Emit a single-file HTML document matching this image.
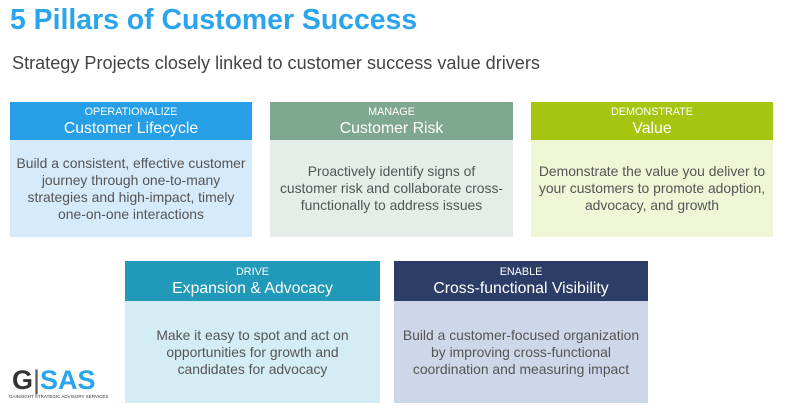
<!DOCTYPE html>
<html><head><meta charset="utf-8"><style>
body{margin:0;width:786px;height:412px;background:#fff;position:relative;overflow:hidden;font-family:"Liberation Sans",Arial,sans-serif}
.t{position:absolute;left:10px;top:4px;font-size:28.4px;font-weight:bold;color:#2aa4ec;white-space:nowrap}
.s{position:absolute;left:12px;top:53px;font-size:18.1px;color:#444;white-space:nowrap}
.b{position:absolute}
.h{height:38px;color:#fff;text-align:center;display:flex;flex-direction:column;justify-content:center;padding-top:3px;box-sizing:border-box}
.h .a{font-size:10.8px;line-height:13px}
.h .c{font-size:15.8px;line-height:20px}
.d{display:flex;align-items:center;justify-content:center;text-align:center;font-size:13.9px;line-height:17px;color:#555;white-space:nowrap}
</style></head><body>
<div class="t">5 Pillars of Customer Success</div>
<div class="s">Strategy Projects closely linked to customer success value drivers</div>

<div class="b" style="left:10px;top:102px;width:242px">
<div class="h" style="background:#279fe6"><div class="a">OPERATIONALIZE</div><div class="c">Customer Lifecycle</div></div>
<div class="d" style="background:#d5eafa;height:97px">Build a consistent, effective customer<br>journey through one-to-many<br>strategies and high-impact, timely<br>one-on-one interactions</div></div>

<div class="b" style="left:270px;top:102px;width:243px">
<div class="h" style="background:#80a890"><div class="a">MANAGE</div><div class="c">Customer Risk</div></div>
<div class="d" style="background:#e4ede8;height:97px">Proactively identify signs of<br>customer risk and collaborate cross-<br>functionally to address issues</div></div>

<div class="b" style="left:531px;top:102px;width:242px">
<div class="h" style="background:#a5c60f"><div class="a">DEMONSTRATE</div><div class="c">Value</div></div>
<div class="d" style="background:#eff6d6;height:97px">Demonstrate the value you deliver to<br>your customers to promote adoption,<br>advocacy, and growth</div></div>

<div class="b" style="left:125px;top:261px;width:255px">
<div class="h" style="background:#2199b9;height:40px"><div class="a">DRIVE</div><div class="c">Expansion &amp; Advocacy</div></div>
<div class="d" style="background:#d4ecf3;height:102px">Make it easy to spot and act on<br>opportunities for growth and<br>candidates for advocacy</div></div>

<div class="b" style="left:394px;top:261px;width:254px">
<div class="h" style="background:#2c3d67;height:40px"><div class="a">ENABLE</div><div class="c">Cross-functional Visibility</div></div>
<div class="d" style="background:#ced7ea;height:102px">Build a customer-focused organization<br>by improving cross-functional<br>coordination and measuring impact</div></div>

<div style="position:absolute;left:12px;top:367px;font-size:27px;font-weight:bold;line-height:26px;white-space:nowrap"><span style="color:#333">G</span><span style="color:#555;font-weight:normal">|</span><span style="color:#2aa4ec">SAS</span></div>
<div style="position:absolute;left:9px;top:394px;font-size:4.5px;color:#333;white-space:nowrap">GAINSIGHT STRATEGIC ADVISORY SERVICES</div>
</body></html>
